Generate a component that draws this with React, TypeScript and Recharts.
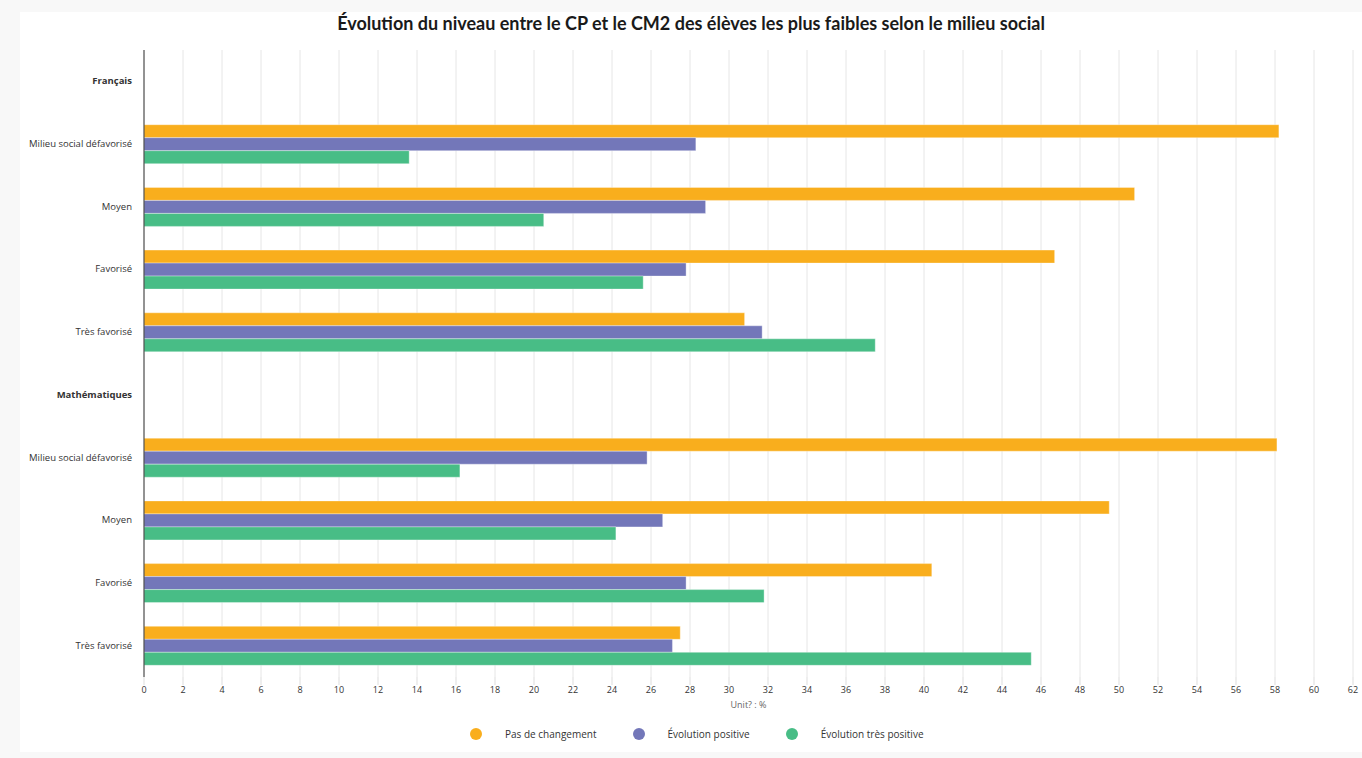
import { Bar, BarChart, CartesianGrid, XAxis, YAxis } from "recharts";

const categories = [
  "Français",
  "Milieu social défavorisé",
  "Moyen",
  "Favorisé",
  "Très favorisé",
  "Mathématiques",
  "Milieu social défavorisé",
  "Moyen",
  "Favorisé",
  "Très favorisé",
];
const headers = ["Français", "Mathématiques"];

const pasDeChangement = [null, 58.2, 50.8, 46.7, 30.8, null, 58.1, 49.5, 40.4, 27.5];
const evolutionPositive = [null, 28.3, 28.8, 27.8, 31.7, null, 25.8, 26.6, 27.8, 27.1];
const evolutionTresPositive = [null, 13.6, 20.5, 25.6, 37.5, null, 16.2, 24.2, 31.8, 45.5];

const xTicks = [0, 2, 4, 6, 8, 10, 12, 14, 16, 18, 20, 22, 24, 26, 28, 30, 32, 34, 36, 38, 40, 42, 44, 46, 48, 50, 52, 54, 56, 58, 60, 62];

const series = [
  { key: "pas", name: "Pas de changement", color: "#f9ae1d" },
  { key: "pos", name: "Évolution positive", color: "#7377b9" },
  { key: "tres", name: "Évolution très positive", color: "#48bd86" },
];

const data = categories.map((name, i) => ({
  name,
  pas: pasDeChangement[i],
  pos: evolutionPositive[i],
  tres: evolutionTresPositive[i],
}));

const FONT = "'Open Sans', sans-serif";

function CategoryTick(props: any) {
  const { x, y, payload } = props;
  const bold = headers.includes(payload.value);
  return (
    <text
      x={x}
      y={y}
      dy={3}
      textAnchor="end"
      fontSize={9.5}
      fontFamily={FONT}
      fontWeight={bold ? 700 : 400}
      fill="#333"
    >
      {payload.value}
    </text>
  );
}

export default function App() {
  return (
    <div
      style={{
        position: "absolute",
        left: 0,
        top: 0,
        width: 1362,
        height: 758,
        background: "#f8f8f8",
        fontFamily: FONT,
      }}
    >
      <div
        style={{
          position: "absolute",
          left: 20,
          top: 12,
          width: 1342,
          height: 740,
          background: "#fff",
        }}
      >
        <div
          style={{
            position: "absolute",
            left: 0,
            top: 0,
            width: 1342,
            textAlign: "center",
            fontFamily: "Lato, sans-serif",
            fontWeight: 700,
            fontSize: 18,
            color: "#1a1a1a",
          }}
        >
          Évolution du niveau entre le CP et le CM2 des élèves les plus faibles selon le milieu social
        </div>
        <div style={{ position: "absolute", left: 0, top: 0 }}>
          <BarChart
            layout="vertical"
            width={1342}
            height={740}
            data={data}
            margin={{ top: 38, right: 9, left: 0, bottom: 39 }}
            barGap={0}
            barSize={13}
          >
            <CartesianGrid horizontal={false} stroke="#e6e6e6" />
            <XAxis
              type="number"
              domain={[0, 62]}
              ticks={xTicks}
              interval={0}
              height={36}
              axisLine={false}
              tickLine={{ stroke: "#ddd" }}
              tickSize={8}
              tick={{ fill: "#333", fontSize: 9, fontFamily: FONT }}
              label={{
                value: "Unit? : %",
                position: "insideBottom",
                offset: 5,
                fill: "#666",
                fontSize: 9,
                fontFamily: FONT,
              }}
            />
            <YAxis
              type="category"
              dataKey="name"
              width={124}
              axisLine={{ stroke: "#333" }}
              tickLine={false}
              tickSize={0}
              tickMargin={12}
              interval={0}
              tick={<CategoryTick />}
            />
            {series.map((s) => (
              <Bar
                key={s.key}
                dataKey={s.key}
                name={s.name}
                fill={s.color}
                stroke="#fff"
                strokeOpacity={0.35}
                strokeWidth={1}
                isAnimationActive={false}
              />
            ))}
          </BarChart>
        </div>
        <div
          style={{
            position: "absolute",
            left: 450,
            top: 715,
            display: "flex",
            alignItems: "center",
            fontSize: 10,
            color: "#333",
          }}
        >
          {series.map((s, i) => (
            <div
              key={s.key}
              style={{ display: "flex", alignItems: "center", marginLeft: i === 0 ? 0 : 36 }}
            >
              <span
                style={{
                  width: 12,
                  height: 12,
                  borderRadius: 6,
                  background: s.color,
                  marginRight: 23,
                  display: "inline-block",
                }}
              />
              <span>{s.name}</span>
            </div>
          ))}
        </div>
      </div>
    </div>
  );
}
